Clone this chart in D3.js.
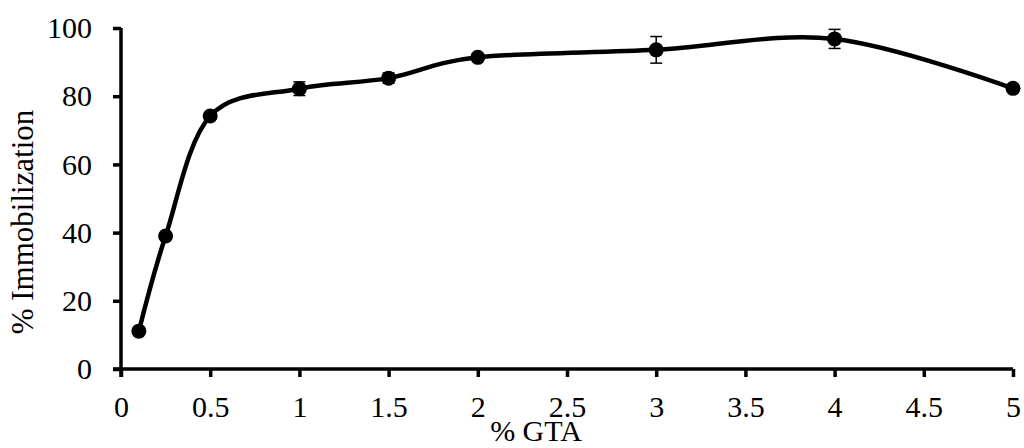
<!DOCTYPE html>
<html><head><meta charset="utf-8">
<script src="https://cdn.jsdelivr.net/npm/d3@7"></script>
<style>body{margin:0;background:#fff}svg{display:block}text{font-family:"Liberation Serif","Times New Roman",serif;fill:#000}</style>
</head><body>
<svg id="c" width="1024" height="448"></svg>
<script>
const gta = [0.1, 0.25, 0.5, 1, 1.5, 2, 3, 4, 5];
const immobilization = [11.1, 39, 74.2, 82.2, 85.3, 91.4, 93.6, 96.8, 82.3];
const errors = [0.5, 0.5, 1, 2, 1.5, 1, 3.9, 2.8, 0.8];
const xTicks = [0, 0.5, 1, 1.5, 2, 2.5, 3, 3.5, 4, 4.5, 5];
const yTicks = [0, 20, 40, 60, 80, 100];
const data = gta.map((x, i) => ({x, y: immobilization[i], e: errors[i]}));

const svg = d3.select("#c");
const L = 121, R = 1013, T = 28, B = 369;
const x = d3.scaleLinear().domain([0, 5]).range([L, R]);
const y = d3.scaleLinear().domain([0, 100]).range([B, T]);
const fs = 30;
const ff = "'Liberation Serif', 'Times New Roman', serif";

const xAxis = svg.append("g").attr("transform", `translate(0,${B})`)
  .call(d3.axisBottom(x).tickValues(xTicks).tickSize(8).tickPadding(19).tickFormat(d3.format("")));
const yAxis = svg.append("g").attr("transform", `translate(${L},0)`)
  .call(d3.axisLeft(y).tickValues(yTicks).tickSize(8).tickPadding(21).tickFormat(d3.format("")));
[xAxis, yAxis].forEach(g => {
  g.attr("font-family", ff).attr("font-size", fs);
  g.select(".domain").attr("stroke", "#000").attr("stroke-width", 3.5);
  g.selectAll(".tick line").attr("stroke", "#000").attr("stroke-width", 3.5);
  g.selectAll(".tick text").attr("font-size", fs).attr("font-family", ff).attr("fill", "#000");
});
xAxis.select(".domain").attr("d", `M${L-8},0H${R}`);
yAxis.select(".domain").attr("d", `M0,${B+8}V${T}`);

svg.append("path").datum(data)
  .attr("fill", "none").attr("stroke", "#000").attr("stroke-width", 4.5)
  .attr("d", d3.line().x(d => x(d.x)).y(d => y(d.y)).curve(d3.curveCardinal.tension(0)));

const eb = svg.append("g").attr("stroke", "#000").attr("stroke-width", 1.5);
data.forEach(d => {
  eb.append("line").attr("x1", x(d.x)).attr("x2", x(d.x)).attr("y1", y(d.y + d.e)).attr("y2", y(d.y - d.e));
  [d.y + d.e, d.y - d.e].forEach(v => eb.append("line").attr("x1", x(d.x) - 6).attr("x2", x(d.x) + 6).attr("y1", y(v)).attr("y2", y(v)));
});

svg.append("g").selectAll("circle").data(data).join("circle")
  .attr("cx", d => x(d.x)).attr("cy", d => y(d.y)).attr("r", 7.5).attr("fill", "#000");

svg.append("text").attr("x", 536).attr("y", 441).attr("text-anchor", "middle").attr("font-family", ff).attr("font-size", fs).text("% GTA");
svg.append("text").attr("transform", "translate(33,222) rotate(-90)").attr("text-anchor", "middle").attr("font-family", ff).attr("font-size", 31).text("% Immobilization");
</script>
</body></html>
